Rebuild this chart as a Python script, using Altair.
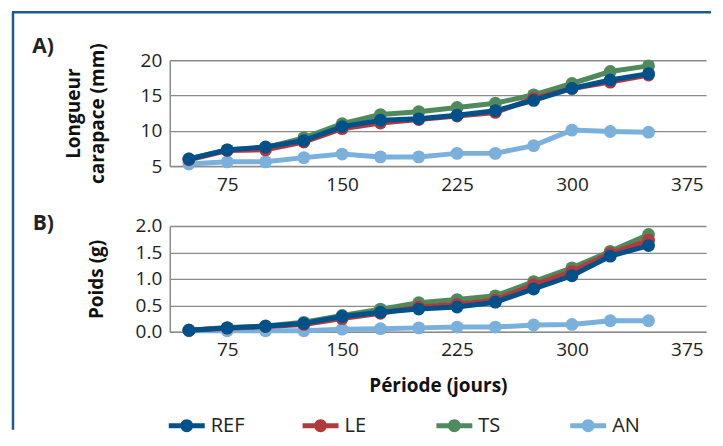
import altair as alt
import pandas as pd

days = [50, 75, 100, 125, 150, 175, 200, 225, 250, 275, 300, 325, 350]
series = ["REF", "LE", "TS", "AN"]
colors = ["#00508a", "#b23a3c", "#4f8a5c", "#7ab0dc"]
draw_order = ["AN", "TS", "LE", "REF"]
panel_labels = ["A)", "B)"]

len_ref = [6.0, 7.3, 7.7, 8.6, 10.6, 11.5, 11.7, 12.2, 12.85, 14.3, 16.0, 17.2, 18.1]
len_le = [5.9, 7.2, 7.3, 8.4, 10.3, 11.1, 11.6, 12.1, 12.6, 14.6, 16.0, 16.9, 17.9]
len_ts = [6.0, 7.3, 7.6, 9.0, 11.0, 12.3, 12.7, 13.3, 13.9, 15.1, 16.7, 18.4, 19.2]
len_an = [5.3, 5.6, 5.6, 6.2, 6.7, 6.3, 6.3, 6.8, 6.8, 7.9, 10.1, 9.9, 9.8]

w_ref = [0.03, 0.075, 0.105, 0.16, 0.29, 0.37, 0.43, 0.47, 0.56, 0.81, 1.06, 1.43, 1.63]
w_le = [0.03, 0.07, 0.10, 0.14, 0.25, 0.35, 0.47, 0.52, 0.60, 0.89, 1.14, 1.48, 1.73]
w_ts = [0.03, 0.08, 0.11, 0.18, 0.31, 0.43, 0.55, 0.61, 0.68, 0.95, 1.21, 1.52, 1.84]
w_an = [0.02, 0.02, 0.02, 0.02, 0.05, 0.06, 0.075, 0.09, 0.09, 0.13, 0.14, 0.21, 0.21]

x_ticks = [75, 150, 225, 300, 375]

lengths = {"REF": len_ref, "LE": len_le, "TS": len_ts, "AN": len_an}
weights = {"REF": w_ref, "LE": w_le, "TS": w_ts, "AN": w_an}

rows = []
for s in draw_order:
    for d, l, w in zip(days, lengths[s], weights[s]):
        rows.append({"jour": d, "serie": s, "longueur": l, "poids": w})
df = pd.DataFrame(rows)

FONT = "Open Sans"
FRAME = "#1c5a8f"

legend_path = ("M-1,-0.14 L1,-0.14 L1,0.14 L-1,0.14 Z "
               "M-0.36,0 A0.36,0.36 0 1,1 0.36,0 A0.36,0.36 0 1,1 -0.36,0 Z")

color_enc = alt.Color(
    "serie:N",
    scale=alt.Scale(domain=series, range=colors),
    legend=alt.Legend(
        title=None, orient="none", direction="horizontal", columns=4,
        legendX=-1, legendY=348, symbolType=legend_path, symbolSize=1296,
        symbolStrokeWidth=0, labelFontSize=20, labelFont=FONT, labelColor="#222",
        labelOffset=6, columnPadding=58, gridAlign="all", padding=0,
    ),
)


def panel(field, ytitle, yvals, ydom, fmt, xtitle, label, label_y, ytitle_pad, extra=()):
    x_enc = alt.X(
        "jour:Q",
        scale=alt.Scale(domain=[37.5, 387.5], nice=False, zero=False),
        axis=alt.Axis(values=x_ticks, title=xtitle, titlePadding=17),
    )
    y_enc = alt.Y(
        f"{field}:Q",
        scale=alt.Scale(domain=ydom, nice=False, zero=False),
        axis=alt.Axis(values=yvals, format=fmt, title=ytitle, titlePadding=ytitle_pad),
    )
    layers = list(extra)
    for s in draw_order:
        b = alt.Chart(df).transform_filter(alt.datum.serie == s)
        layers.append(b.mark_line(strokeWidth=5).encode(x=x_enc, y=y_enc, color=color_enc))
        layers.append(b.mark_circle(size=165, opacity=1).encode(x=x_enc, y=y_enc, color=color_enc))
    lab = alt.Chart(pd.DataFrame({"t": [label]})).mark_text(
        align="right", baseline="alphabetic", fontSize=21, fontWeight="bold", font=FONT, color="#222"
    ).encode(text="t:N", x=alt.value(-116), y=alt.value(label_y))
    layers.append(lab)
    return alt.layer(*layers).properties(width=537, height=106)


frame_df = pd.DataFrame({"k": [0]})
frame_v = alt.Chart(frame_df).mark_rule(color=FRAME, strokeWidth=2.5).encode(
    x=alt.value(-157), y=alt.value(-214), y2=alt.value(204)
)
frame_h = alt.Chart(frame_df).mark_rule(color=FRAME, strokeWidth=2.5).encode(
    x=alt.value(-158), x2=alt.value(542), y=alt.value(-214)
)

top = panel("longueur", ["Longueur", "carapace  (mm)"], [5, 10, 15, 20], [5, 20], "d", None,
            panel_labels[0], -7, 33)
bottom = panel("poids", "Poids (g)", [0, 0.5, 1.0, 1.5, 2.0], [0, 2], ".1f", "Période (jours)",
               panel_labels[1], 4, 29, extra=(frame_v, frame_h))

chart = alt.vconcat(top, bottom, spacing=60, bounds="flush").properties(
    padding=2,
).configure(
    font=FONT,
).configure_view(
    stroke=None,
).configure_axis(
    labelFont=FONT, labelFontSize=19, labelColor="#222", ticks=False,
    domainColor="#8a8a8a", domainWidth=1.5, gridColor="#8a8a8a", gridWidth=1.3,
    titleFont=FONT, titleFontSize=19, titleFontWeight="bold", titleColor="#111",
    titleLineHeight=24,
).configure_axisX(
    grid=False, labelPadding=9,
).configure_axisY(
    labelPadding=8, domain=True,
)

chart.save("out.html", embed_options={"renderer": "svg", "actions": False})
